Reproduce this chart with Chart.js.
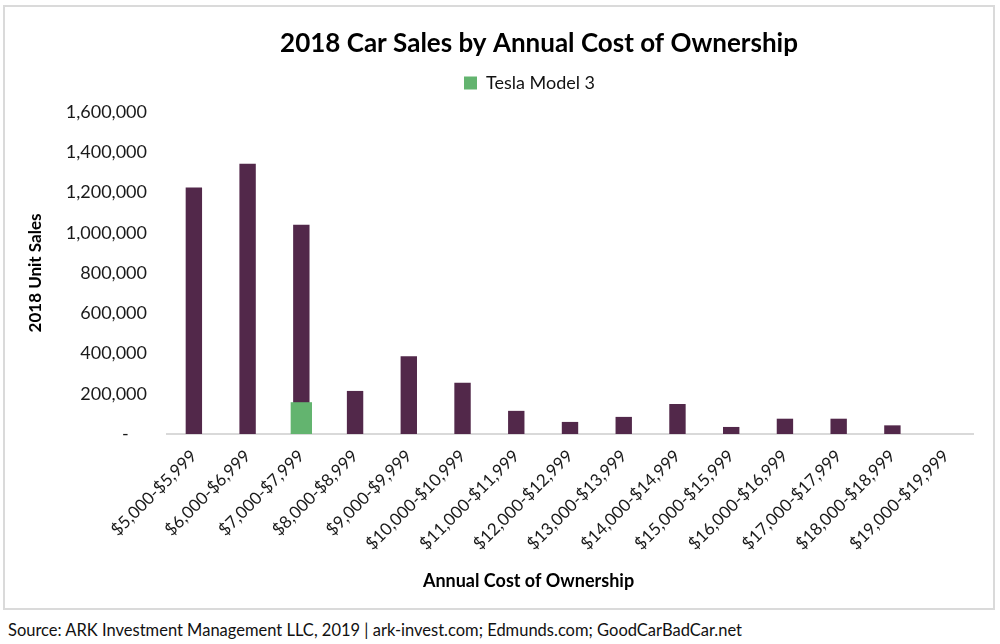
<!DOCTYPE html>
<html><head><meta charset="utf-8">
<script src="https://cdn.jsdelivr.net/npm/chart.js@4"></script>
<style>
html,body{margin:0;padding:0;background:#fff;}
#wrap{position:relative;width:1000px;height:644px;overflow:hidden;background:#fff;}
#c{position:absolute;left:0;top:0;}
#frame{position:absolute;left:3px;top:5px;width:992px;height:605px;box-sizing:border-box;border:2px solid #dadada;pointer-events:none;}
#src{position:absolute;left:8px;top:620px;font:16.5px Lato, sans-serif;color:#111;white-space:nowrap;line-height:20px;}
</style></head><body>
<div id="wrap">
<canvas id="c" width="1000" height="612"></canvas>
<div id="frame"></div>
<div id="src">Source: ARK Investment Management LLC, 2019 | ark-invest.com; Edmunds.com; GoodCarBadCar.net</div>
</div>
<script>
const categories = ['$5,000-$5,999','$6,000-$6,999','$7,000-$7,999','$8,000-$8,999','$9,000-$9,999',
  '$10,000-$10,999','$11,000-$11,999','$12,000-$12,999','$13,000-$13,999','$14,000-$14,999',
  '$15,000-$15,999','$16,000-$16,999','$17,000-$17,999','$18,000-$18,999','$19,000-$19,999'];
const allVehicleSales = [1225000,1343000,1040000,214000,386000,255000,115000,60000,85000,149000,35000,76000,76000,43000,0];
const teslaModel3Sales = [null,null,158000,null,null,null,null,null,null,null,null,null,null,null,null];
const yMin = 0, yMax = 1600000, yStep = 200000;

// horizontal / vertical nudges of the title, legend and bottom caption boxes
const boxShift = {title: {dx: 42.5, dy: 0}, legend: {dx: 33, dy: -10}, subtitle: {dx: 32, dy: 0}};
const shiftPlugin = {
  id: 'shiftBoxes',
  afterLayout(chart) {
    chart.boxes.forEach((b) => {
      let s = null;
      if (b === chart.titleBlock) s = boxShift.title;
      else if (b === chart.legend) s = boxShift.legend;
      else if (!b.axis && b.position === 'bottom') s = boxShift.subtitle;
      if (s) { b.left += s.dx; b.right += s.dx; b.top += s.dy; b.bottom += s.dy; }
    });
  }
};

new Chart(document.getElementById('c'), {
  type: 'bar',
  data: {
    labels: categories,
    datasets: [
      {label: 'Tesla Model 3', data: teslaModel3Sales, backgroundColor: '#63b46f',
       barPercentage: 0.397, categoryPercentage: 1, grouped: false, order: 0},
      {label: '2018 Unit Sales', data: allVehicleSales, backgroundColor: '#52284a',
       barPercentage: 0.305, categoryPercentage: 1, grouped: false, order: 1}
    ]
  },
  plugins: [shiftPlugin],
  options: {
    responsive: false,
    animation: false,
    layout: {padding: {left: 20, right: 27, top: 0, bottom: 0}},
    plugins: {
      title: {display: true, text: '2018 Car Sales by Annual Cost of Ownership', color: '#000',
        font: {family: 'Lato', size: 26, weight: 'bold'}, padding: {top: 28.4, bottom: 14.4}},
      legend: {display: true, labels: {filter: (item) => item.datasetIndex === 0, boxWidth: 13, boxHeight: 13,
        color: '#111', font: {family: 'Lato', size: 18}, padding: 10}},
      subtitle: {display: true, position: 'bottom', text: 'Annual Cost of Ownership', color: '#000',
        font: {family: 'Lato', size: 18, weight: 'bold'}, padding: {top: 0, bottom: 20.2}},
      tooltip: {enabled: false}
    },
    scales: {
      x: {
        grid: {display: false, drawTicks: false},
        border: {display: true, color: '#d9d9d9', width: 2},
        ticks: {minRotation: 45, maxRotation: 45, autoSkip: false, color: '#1a1a1a',
          font: {family: 'Lato', size: 17}, padding: 12},
        afterFit: (s) => { s.height = 136.2; }
      },
      y: {
        min: yMin, max: yMax,
        grid: {display: false, drawTicks: false},
        border: {display: false},
        ticks: {stepSize: yStep, color: '#1a1a1a', font: {family: 'Lato', size: 18}, padding: 20,
          callback: (v) => v === 0 ? '-    ' : v.toLocaleString('en-US')},
        title: {display: true, text: '2018 Unit Sales', color: '#000',
          font: {family: 'Lato', size: 17, weight: 'bold'}, padding: {top: 5, bottom: 0}},
        afterFit: (s) => { s.width = 147; }
      }
    }
  }
});
</script>
</body></html>
